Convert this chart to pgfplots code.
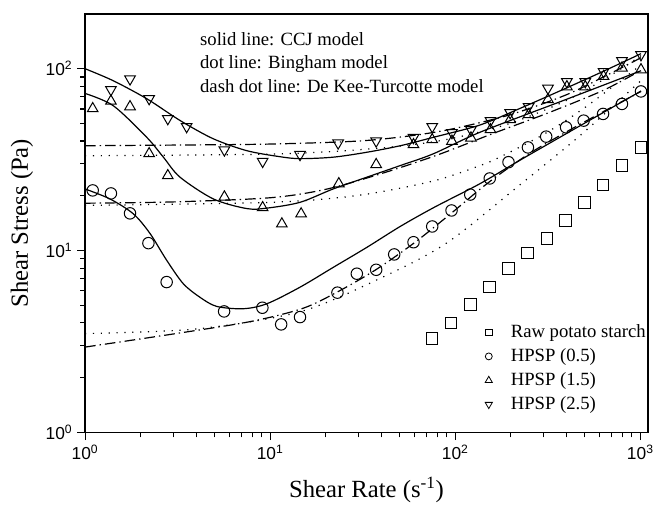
\documentclass[border=0pt]{standalone}
\usepackage{fontspec}
\setmainfont{Liberation Serif}
\setsansfont{Liberation Sans}
\usepackage{pgfplots}
\pgfplotsset{compat=1.18}

\begin{document}
\begin{tikzpicture}
\begin{axis}[
  scale only axis,
  width=422pt, height=313.5pt,
  xmode=log, ymode=log,
  xmin=1, xmax=1100, ymin=1, ymax=200,
  xtick={1,10,100,1000},
  xticklabels={10\textsuperscript{0},10\textsuperscript{1},10\textsuperscript{2},10\textsuperscript{3}},
  ytick={1,10,100},
  yticklabels={10\textsuperscript{0},10\textsuperscript{1},10\textsuperscript{2}},
  ticklabel style={font=\sffamily\fontsize{13}{15}\selectfont},
  tick pos=left, tick align=outside,
  major tick length=6pt, minor tick length=3.8pt,
  tick style={black, line width=0.8pt},
  axis line style={line width=0.9pt},
  xlabel={Shear Rate (s\textsuperscript{-1})},
  ylabel={Shear Stress (Pa)},
  label style={font=\fontsize{18.5}{22}\selectfont},
  xlabel style={at={(axis description cs:0.5,-0.138)}, anchor=center},
  ylabel style={at={(axis description cs:-0.112,0.5)}, anchor=center},
  legend style={at={(axis description cs:0.69,0.27)}, anchor=north west,
    draw=none, fill=none, font=\fontsize{14}{17}\selectfont, row sep=2.8pt},
  legend cell align=left,
  legend image code/.code={\path (0,0) (0.78cm,0); \draw[#1] plot coordinates {(0.28cm,0cm)};},
]
% legend entries
\addlegendimage{only marks, mark=square, mark size=2.5pt, line width=0.6pt}
\addlegendentry{Raw potato starch}
\addlegendimage{only marks, mark=o, mark size=2.6pt, line width=0.6pt}
\addlegendentry{HPSP (0.5)}
\addlegendimage{only marks, mark=triangle, mark size=3.1pt, line width=0.6pt}
\addlegendentry{HPSP (1.5)}
\addlegendimage{only marks, mark=triangle, mark size=3.1pt, line width=0.6pt, mark options={rotate=180}}
\addlegendentry{HPSP (2.5)}

% measured data
\addplot[forget plot, only marks, mark=square, mark size=4.4pt, line width=0.75pt] coordinates {
(74.8,3.27) (94.8,3.99) (120.5,5.03) (152.7,6.29) (194,7.93) (246,9.67)
(313,11.68) (393,14.62) (498,18.43) (629,22.95) (796,29.3) (1009,36.95)
};
\addplot[forget plot, only marks, mark=o, mark size=4.3pt, line width=0.75pt] coordinates {
(1.10,21.4) (1.38,20.6) (1.75,16.0) (2.20,10.97) (2.76,6.70) (5.64,4.62)
(9.08,4.84) (11.47,3.92) (14.5,4.30) (23.1,5.86) (29.4,7.45) (37.4,7.83)
(46.8,9.51) (59.5,11.1) (75.1,13.55) (95.5,16.6) (120.5,20.3) (153.6,24.9)
(194,30.6) (247,36.9) (310,42.3) (397,47.6) (494,51.8) (629,56.4)
(796,64.0) (1008,75.0)
};
\addplot[forget plot, only marks, mark=triangle, mark size=4.6pt, line width=0.75pt] coordinates {
(1.10,60.3) (1.38,66.3) (1.75,61.8) (2.22,34.1) (2.80,25.8) (5.66,19.7)
(9.11,17.2) (11.57,14.0) (14.7,15.9) (23.5,23.3) (37.4,29.7) (59.5,38.2)
(75.1,40.7) (96,39.9) (121.6,41.6) (155,46.2) (198,52.5) (249,55.9)
(317,67.6) (401,79.6) (504,79.6) (633,90.7) (796,100.9) (1008,98.7)
};
\addplot[forget plot, only marks, mark=triangle, mark size=4.6pt, line width=0.75pt, mark options={rotate=180}] coordinates {
(1.38,76.7) (1.75,87.8) (2.22,68.4) (2.80,53.1) (3.54,48.0) (5.66,35.7)
(9.11,30.9) (14.5,33.7) (23.3,39.0) (37.4,40.0) (59.5,41.8) (75.1,48.0)
(96,44.5) (121.6,46.2) (155,51.8) (198,57.3) (249,61.8) (317,78.1)
(401,84.8) (504,84.8) (633,96.3) (796,110.6) (1008,119.4)
};

% CCJ model (solid)
\addplot[forget plot, smooth, line width=0.9pt] coordinates {
(1,100) (1.416,86) (2.153,68.4) (3.27,51.8) (4.92,41.2) (7.48,35.4)
(11.3,32.8) (14.5,32.0) (21.9,32.6) (33.3,34.7) (50.5,37.7) (76,41.9)
(136,49) (224,60.5) (370,75.7) (608,95.1) (1009,121)
};
\addplot[forget plot, smooth, line width=0.9pt] coordinates {
(1,73.1) (1.42,62.6) (2.156,41.9) (2.65,32.6) (3.26,25.3) (4.94,19.2)
(7.48,17.0) (9.6,17.1) (14.5,18.4) (21.9,21.8) (33.3,25.3) (50.4,29.3)
(76,34.0) (136,44.7) (370,65.9) (1009,97.5)
};
\addplot[forget plot, smooth, line width=0.9pt] coordinates {
(1,21.8) (1.365,19.2) (1.824,15.9) (2.244,12.4) (2.765,8.81) (3.396,6.56)
(4.184,5.52) (5.15,4.92) (7.17,4.78) (9.6,5.09) (14.5,6.28) (22,8.09)
(33.3,10.4) (50.4,13.55) (76.4,17.2) (136,23.3) (224,31.4) (370,42.1)
(608,56.2) (1009,75.4)
};

% Bingham model (dotted)
\addplot[forget plot, smooth, line width=0.9pt, dash pattern=on 0.9pt off 5pt] coordinates {
(1,33.2) (10,33.9) (30,35.8) (60,38.3) (100,41.7) (200,50.2) (400,67) (700,92.7) (1009,118)
};
\addplot[forget plot, smooth, line width=0.9pt, dash pattern=on 0.9pt off 5pt] coordinates {
(1,17.7) (10,18.4) (30,20.1) (76,24.1) (136,29.3) (176,32.8) (300,43.5) (500,61) (1009,105)
};
\addplot[forget plot, smooth, line width=0.9pt, dash pattern=on 0.9pt off 5pt] coordinates {
(1,3.49) (4,3.7) (14.5,4.6) (39,7.0) (90,11.0) (224,23) (474,43) (1009,86)
};

% De Kee-Turcotte model (dash dot)
\addplot[forget plot, smooth, line width=0.9pt, dash pattern=on 8pt off 3pt on 1pt off 3pt] coordinates {
(1,37.7) (3,38) (10,38.5) (30,40) (60,43) (100,47) (200,56) (400,72) (700,95) (1009,115)
};
\addplot[forget plot, smooth, line width=0.9pt, dash pattern=on 8pt off 3pt on 1pt off 3pt] coordinates {
(1,18.2) (3,18.5) (10,19.5) (20,21.7) (40,26.5) (80,33.5) (160,44) (316,57) (630,76) (1009,98)
};
\addplot[forget plot, smooth, line width=0.9pt, dash pattern=on 8pt off 3pt on 1pt off 3pt] coordinates {
(1,2.94) (3.16,3.5) (7.9,4.07) (15,4.8) (23,5.9) (37,7.8) (60,11) (95,16)
(150,23.5) (250,34) (400,45) (630,58) (1009,75)
};

\node[anchor=north west, align=left, inner sep=0pt, font=\fontsize{14}{17.6}\selectfont]
  at (axis description cs:0.204,0.957)
  {solid line: CCJ model\\dot line: Bingham model\\dash dot line: De Kee-Turcotte model};
\end{axis}
\pgfresetboundingbox
\useasboundingbox ([xshift=-63.75pt,yshift=-54pt]current axis.south west) rectangle ([xshift=4.5pt,yshift=10.5pt]current axis.north east);
\end{tikzpicture}
\end{document}
